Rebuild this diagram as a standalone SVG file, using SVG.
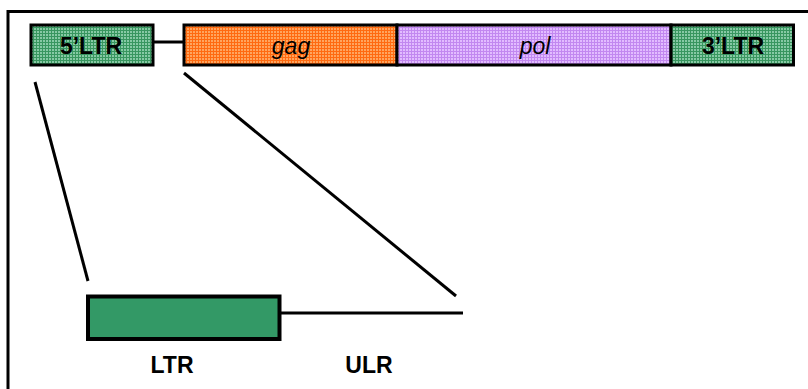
<svg xmlns="http://www.w3.org/2000/svg" width="808" height="389" viewBox="0 0 808 389">
<style>
.box{stroke:#000;stroke-width:3}
.ln{stroke:#000;stroke-width:3;fill:none}
.lb{font-family:"Liberation Sans",Arial,sans-serif;font-weight:bold;font-size:23px;fill:#000;text-anchor:middle}
.it{font-family:"Liberation Sans",Arial,sans-serif;font-style:italic;font-size:23px;fill:#000;text-anchor:middle}
</style>
<defs>
<pattern id="pg" width="3" height="3" patternUnits="userSpaceOnUse">
<rect width="3" height="3" fill="#86c9a4"/>
<path d="M0 0.5H3M0.5 0V3" stroke="#38965f" stroke-width="1"/>
</pattern>
<pattern id="po" width="3" height="3" patternUnits="userSpaceOnUse">
<rect width="3" height="3" fill="#ffa55e"/>
<path d="M0 0.5H3M0.5 0V3" stroke="#ff6a10" stroke-width="1"/>
</pattern>
<pattern id="pp" width="3" height="3" patternUnits="userSpaceOnUse">
<rect width="3" height="3" fill="#e2bcff"/>
<path d="M0 0.5H3M0.5 0V3" stroke="#c288f0" stroke-width="1"/>
</pattern>
</defs>
<rect width="808" height="389" fill="#fff"/>
<g id="frame"><path class="ln" d="M8 389V11.5H808"/></g>
<g id="connectors">
<line class="ln" x1="153" y1="42" x2="184" y2="42"/>
<line class="ln" x1="35" y1="82" x2="88" y2="281"/>
<line class="ln" x1="184" y1="73" x2="456" y2="296"/>
<line class="ln" x1="280" y1="313" x2="463" y2="313" stroke-width="4"/>
</g>
<g id="ltr5"><rect class="box" x="31" y="25" width="122" height="40" fill="url(#pg)"/><text class="lb" x="91" y="54">5’LTR</text></g>
<g id="gag"><rect class="box" x="184" y="25" width="213" height="40" fill="url(#po)"/><text class="it" x="291" y="54">gag</text></g>
<g id="pol"><rect class="box" x="397" y="25" width="274" height="40" fill="url(#pp)"/><text class="it" x="535" y="54">pol</text></g>
<g id="ltr3"><rect class="box" x="671" y="25" width="122.5" height="40" fill="url(#pg)"/><text class="lb" x="733" y="54">3’LTR</text></g>
<g id="ltr"><rect x="88" y="296.5" width="191.5" height="42.5" fill="#339966" stroke="#000" stroke-width="4"/><text class="lb" x="172" y="373">LTR</text></g>
<g id="ulr"><text class="lb" x="369" y="373">ULR</text></g>
</svg>
